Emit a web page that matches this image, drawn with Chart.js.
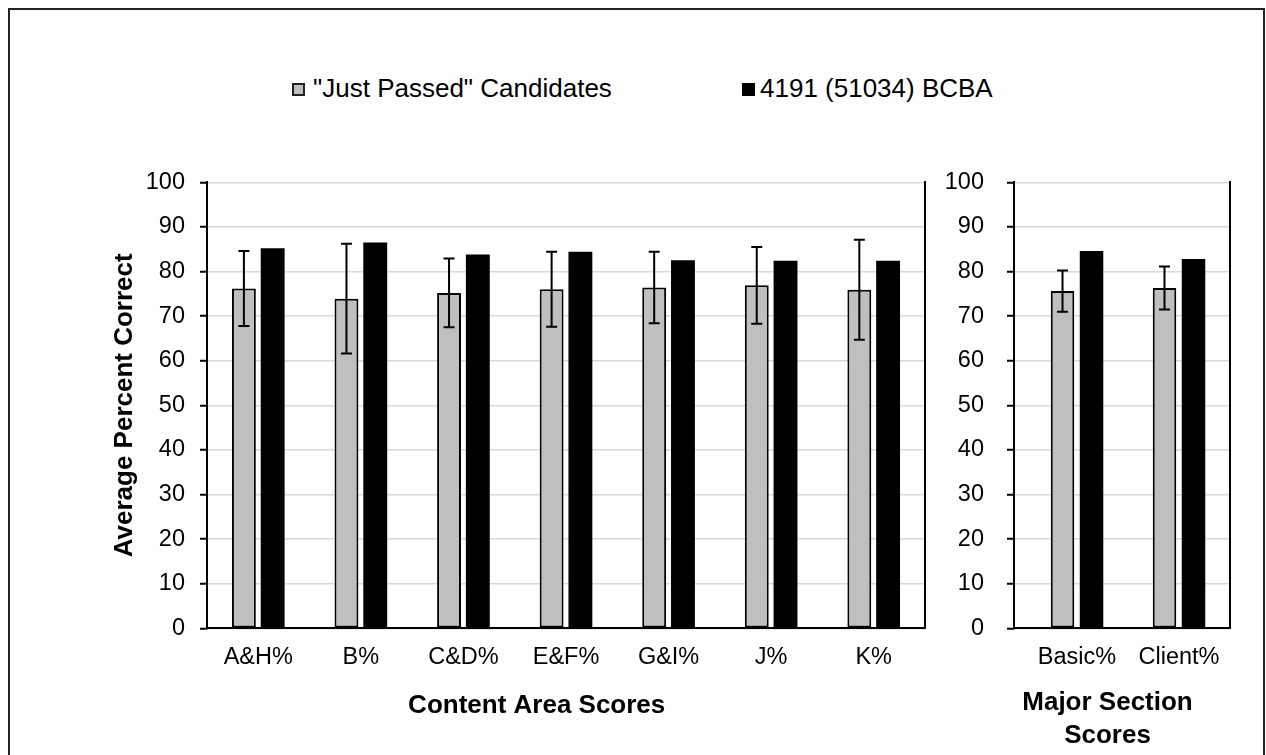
<!DOCTYPE html>
<html>
<head>
<meta charset="utf-8">
<script src="https://cdn.jsdelivr.net/npm/chart.js@4.4.0/dist/chart.umd.min.js"></script>
<style>
  body { margin: 0; background: #fff; font-family: 'Liberation Sans', Arial, sans-serif; }
  #page { position: relative; width: 1266px; height: 755px; overflow: hidden; background: #fff; }
  #frame { position: absolute; left: 8px; top: 8px; width: 1257px; height: 800px; box-sizing: border-box;
           border-left: 2px solid #222; border-top: 2px solid #222; border-right: 2px solid #222; }
  canvas { position: absolute; top: 0; }
  .key { position: absolute; top: 73px; font-size: 26px; line-height: 30px; color: #000; white-space: nowrap; }
  .swatch { position: absolute; top: 83px; width: 13px; height: 13px; box-sizing: border-box; }
</style>
</head>
<body>
<div id="page">
  <div id="frame"></div>
  <div class="swatch" style="left:292px;background:#bfbfbf;border:2px solid #222;"></div>
  <div class="key" id="key1" style="left:313px;"></div>
  <div class="swatch" style="left:742px;background:#000;"></div>
  <div class="key" id="key2" style="left:760px;"></div>
  <canvas id="left" width="968" height="755" style="left:0;"></canvas>
  <canvas id="right" width="375" height="755" style="left:900px;"></canvas>
</div>
<script>
// series names
const seriesNames = ['"Just Passed" Candidates', '4191 (51034) BCBA'];

// content area panel
const contentAreas = ['A&H%', 'B%', 'C&D%', 'E&F%', 'G&I%', 'J%', 'K%'];
const contentPassed = [76.2, 73.9, 75.2, 76.0, 76.4, 76.9, 75.9];
const contentPassedSd = [8.4, 12.3, 7.7, 8.4, 8.0, 8.6, 11.2];
const contentBcba = [85.2, 86.5, 83.8, 84.4, 82.5, 82.4, 82.4];

// major section panel
const sections = ['Basic%', 'Client%'];
const sectionPassed = [75.6, 76.3];
const sectionPassedSd = [4.6, 4.8];
const sectionBcba = [84.6, 82.8];

const yMin = 0, yMax = 100, yStep = 10;

document.getElementById('key1').textContent = seriesNames[0];
document.getElementById('key2').textContent = seriesNames[1];

Chart.defaults.font.family = "'Liberation Sans', Arial, sans-serif";
Chart.defaults.color = '#000';

// whiskers for the first dataset (value +/- sd)
const errorBars = {
  id: 'errorBars',
  afterDatasetsDraw(chart, args, opts) {
    const meta = chart.getDatasetMeta(0);
    const y = chart.scales.y;
    const ctx = chart.ctx;
    const vals = chart.data.datasets[0].data;
    ctx.save();
    ctx.strokeStyle = '#000';
    ctx.lineWidth = 2;
    meta.data.forEach((bar, i) => {
      const top = y.getPixelForValue(vals[i] + opts.sd[i]);
      const bot = y.getPixelForValue(vals[i] - opts.sd[i]);
      ctx.beginPath();
      ctx.moveTo(bar.x, top); ctx.lineTo(bar.x, bot);
      ctx.moveTo(bar.x - 5.5, top); ctx.lineTo(bar.x + 5.5, top);
      ctx.moveTo(bar.x - 5.5, bot); ctx.lineTo(bar.x + 5.5, bot);
      ctx.stroke();
    });
    ctx.restore();
  }
};

function makePanel(canvasId, labels, passed, sd, bcba, cfg) {
  return new Chart(document.getElementById(canvasId), {
    type: 'bar',
    data: {
      labels: labels,
      datasets: [
        {
          label: seriesNames[0],
          data: passed,
          backgroundColor: '#bfbfbf',
          borderColor: '#000',
          borderWidth: 2,
          borderSkipped: false,
          categoryPercentage: cfg.catPct,
          barPercentage: cfg.barPct,
        },
        {
          label: seriesNames[1],
          data: bcba,
          backgroundColor: '#000',
          borderWidth: 0,
          categoryPercentage: cfg.catPct,
          barPercentage: cfg.barPct,
        },
      ],
    },
    options: {
      responsive: false,
      animation: false,
      layout: { padding: { left: cfg.padLeft, right: cfg.padRight, top: 182.3, bottom: 0 } },
      scales: {
        x: {
          grid: { display: false, drawTicks: false },
          border: { display: true, color: '#000', width: 2 },
          ticks: { font: { size: 23.5 }, padding: 15, maxRotation: 0, autoSkip: false },
          afterFit: s => { s.height = cfg.xHeight; },
          // the section panel leaves a small gap before its first category
          afterBuildTicks: s => {
            if (cfg.leadGap) {
              s._startValue -= cfg.leadGap;
              s._valueRange += cfg.leadGap;
            }
          },
        },
        y: {
          min: yMin,
          max: yMax,
          ticks: { stepSize: yStep, font: { size: 23.5 }, padding: cfg.tickPad },
          grid: { color: '#d9d9d9', lineWidth: 1.5, tickColor: '#000', tickWidth: 2, tickLength: 7 },
          border: { display: true, color: '#000', width: 2 },
          title: {
            display: !!cfg.yTitle,
            text: cfg.yTitle || '',
            font: { size: 26, weight: 'bold' },
            padding: { top: 4, bottom: 4 },
          },
          afterFit: s => { s.width = cfg.yWidth; },
        },
        y2: {
          position: 'right',
          display: true,
          grid: { display: false, drawTicks: false },
          ticks: { display: false },
          border: { display: true, color: '#000', width: 2 },
          afterFit: s => { s.width = cfg.y2Width; },
        },
      },
      plugins: {
        legend: { display: false },
        tooltip: { enabled: false },
        title: {
          display: true,
          position: 'bottom',
          text: cfg.xTitle,
          color: '#000',
          font: { size: 26, weight: 'bold', lineHeight: 1.27 },
          padding: { top: 0, bottom: cfg.titlePadBottom },
        },
        errorBars: { sd: sd },
      },
    },
    plugins: [errorBars],
  });
}

makePanel('left', contentAreas, contentPassed, contentPassedSd, contentBcba, {
  catPct: 0.561, barPct: 0.83,
  padLeft: 105.4, padRight: 0,
  yWidth: 101.6, y2Width: 43, tickPad: 15,
  xHeight: 61.2, titlePadBottom: 32.5,
  yTitle: 'Average Percent Correct',
  xTitle: 'Content Area Scores',
  leadGap: 0,
});

makePanel('right', sections, sectionPassed, sectionPassedSd, sectionBcba, {
  catPct: 0.569, barPct: 0.81,
  padLeft: 40, padRight: 0,
  yWidth: 74, y2Width: 45, tickPad: 23,
  xHeight: 58.2, titlePadBottom: 2.5,
  yTitle: null,
  xTitle: ['Major Section', 'Scores'],
  leadGap: 0.118,
});
</script>
</body>
</html>
